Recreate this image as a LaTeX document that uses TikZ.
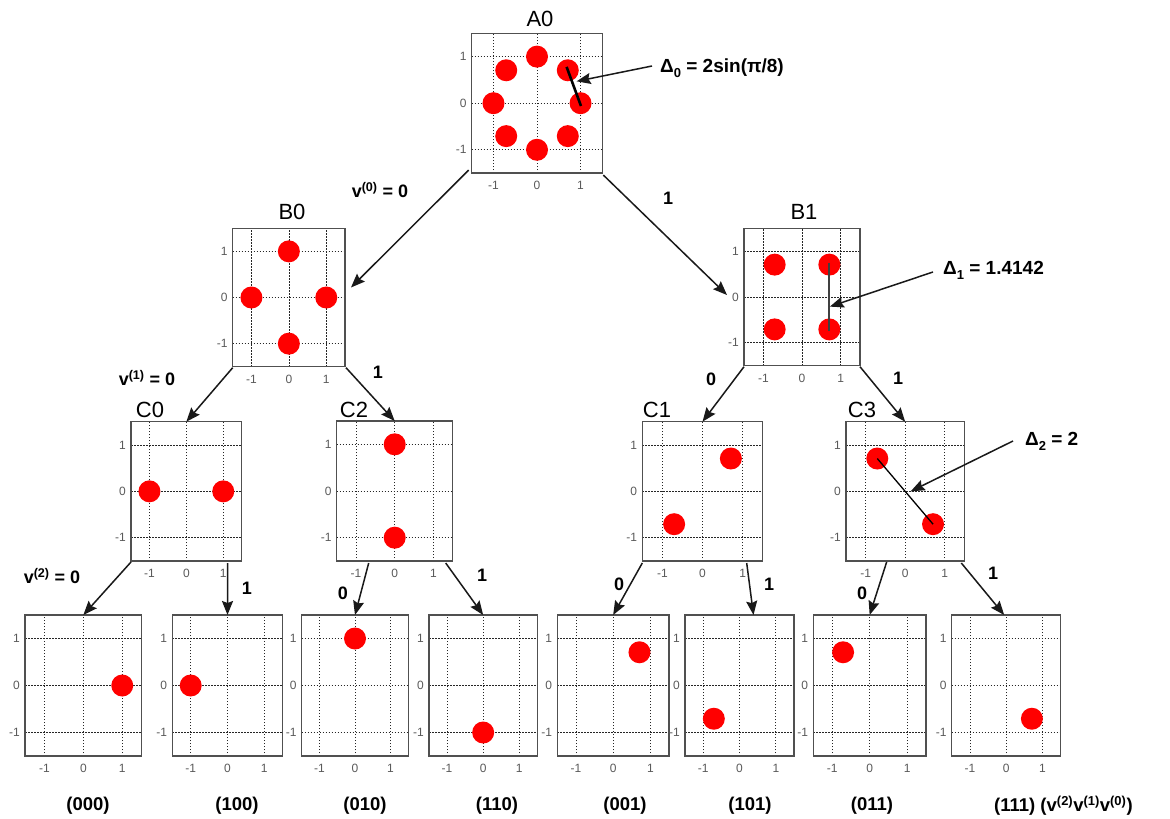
\documentclass[tikz,border=0pt]{standalone}
\usepackage{fontspec}
\setmainfont{Liberation Sans}
\usetikzlibrary{arrows.meta,calc}
\definecolor{boxgray}{HTML}{505050}
\definecolor{tickgray}{HTML}{5A5A5A}
\definecolor{dotred}{HTML}{FF0000}
\tikzset{
 panel/.style={draw=boxgray, line width=1.3pt, inner sep=0pt, outer sep=0pt, rectangle},
 gridline/.style={draw=black!85, line width=0.7pt, dash pattern=on 1.5pt off 1.5pt},
 tick/.style={text=tickgray, font=\fontsize{12}{12}\selectfont, inner sep=0pt},
 ptitle/.style={font=\fontsize{22}{22}\selectfont, inner sep=0pt},
 blabel/.style={font=\bfseries\fontsize{18}{18}\selectfont, inner sep=0pt},
 leaflabel/.style={font=\bfseries\fontsize{18.5}{18.5}\selectfont, inner sep=0pt},
 conn/.style={draw=black!90, line width=1.5pt, -{Stealth[length=14pt,width=11pt,inset=2pt]}},
 dlabel/.style={font=\bfseries\fontsize{19}{19}\selectfont, inner sep=0pt, anchor=west},
 dline/.style={line width=2.6pt, black},
}
\newcommand{\plotpanel}[7]{%
\begin{scope}[shift={(#2,#3)}, x={(#4pt/3,0pt)}, y={(0pt,#5pt/3)}]
\foreach \g in {-1,0,1}{%
 \draw[gridline] (\g,-1.5) -- (\g,1.5);
 \draw[gridline] (-1.5,\g) -- (1.5,\g);
 \node[tick, anchor=east] (#1-y\g) at ([xshift=-5pt]-1.5,\g) {\g};
 \node[tick, anchor=north] (#1-x\g) at ([yshift=-8pt]\g,-1.5) {\g};
}
\foreach \px/\py in {#6}{\fill[dotred] (\px,\py) circle[radius=11pt];}
#7
\node[panel, minimum width=#4pt, minimum height=#5pt] (#1) at (0,0) {};
\end{scope}}
\newcommand{\dsub}[1]{\raisebox{-5pt}{\fontsize{13}{13}\selectfont #1}}
\begin{document}
\begin{tikzpicture}[x=1pt,y=-1pt]
\fill[white] (0,0) rectangle (1170,819);
\useasboundingbox (0,0) rectangle (1170,819);

% panels
\plotpanel{A0}{537}{103.2}{130.6}{139.7}{1/0,0.7071/0.7071,0/1,-0.7071/0.7071,-1/0,-0.7071/-0.7071,0/-1,0.7071/-0.7071}{%
 \draw[dline] (0.68,0.78) -- (1.01,-0.06);
 \coordinate (A0tip) at (0.91,0.47);}
\plotpanel{B0}{288.85}{297.5}{112.3}{138.4}{0/1,1/0,0/-1,-1/0}{}
\plotpanel{B1}{802}{297}{116}{137.4}{0.7071/0.7071,-0.7071/0.7071,-0.7071/-0.7071,0.7071/-0.7071}{%
 \draw[line width=2.2pt, black!75] (0.7071,0.75) -- (0.7071,-0.75);
 \coordinate (B1tip) at (0.72,-0.21);}
\plotpanel{C0}{186.35}{491.35}{110.7}{139.3}{-1/0,1/0}{}
\plotpanel{C2}{394.7}{491}{116}{140}{0/1,0/-1}{}
\plotpanel{C1}{702.5}{491.35}{120.4}{139.3}{0.7071/0.7071,-0.7071/-0.7071}{}
\plotpanel{C3}{905.15}{491.35}{118.3}{139.3}{-0.7071/0.7071,0.7071/-0.7071}{%
 \draw[line width=1.3pt, black] (-0.7071,0.7071) -- (0.7071,-0.7071);
 \coordinate (C3tip) at (0.14,0);}
\plotpanel{L000}{83.35}{685.5}{116.7}{141}{1/0}{}
\plotpanel{L100}{227.5}{685.5}{110.4}{141}{-1/0}{}
\plotpanel{L010}{355}{685.5}{106.6}{141}{0/1}{}
\plotpanel{L110}{483.15}{685.5}{108.3}{141}{0/-1}{}
\plotpanel{L001}{613.15}{685.5}{111.7}{141}{0.7071/0.7071}{}
\plotpanel{L101}{739.5}{685.5}{109}{141}{-0.7071/-0.7071}{}
\plotpanel{L011}{869.65}{685.5}{112.7}{141}{-0.7071/0.7071}{}
\plotpanel{L111}{1006.2}{685.5}{109}{141}{0.7071/-0.7071}{}

% titles
\node[ptitle] (tA0) at (540,19) {A0};
\node[ptitle] (tB0) at (292,212) {B0};
\node[ptitle] (tB1) at (804,212) {B1};
\node[ptitle] (tC0) at (150,410) {C0};
\node[ptitle] (tC2) at (354,410) {C2};
\node[ptitle] (tC1) at (657,410) {C1};
\node[ptitle] (tC3) at (862,410) {C3};

% connectors
\draw[conn] ([xshift=-3pt,yshift=3pt]A0.south west) -- ([xshift=6pt,yshift=10pt]B0.east);
\draw[conn] ([xshift=1pt,yshift=-2pt]A0.south east) -- ([xshift=-17pt,yshift=2pt]B1.west);
\draw[conn] ([yshift=-1pt]B0.south west) -- (C0.north);
\draw[conn] ([xshift=1pt,yshift=-1pt]B0.south east) -- (C2.north);
\draw[conn] ([yshift=-1pt]B1.south west) -- (C1.north);
\draw[conn] ([yshift=-1pt]B1.south east) -- (C3.north);
\draw[conn] ([yshift=-1pt]C0.south west) -- (L000.north);
\draw[conn] ([xshift=41.2pt,yshift=-2pt]C0.south) -- (L100.north);
\draw[conn] ([xshift=-26pt,yshift=-2pt]C2.south) -- (L010.north);
\draw[conn] ([xshift=-7pt,yshift=-2pt]C2.south east) -- (L110.north);
\draw[conn] ([yshift=-2pt]C1.south west) -- (L001.north);
\draw[conn] ([xshift=-16pt,yshift=-2pt]C1.south east) -- ([xshift=14pt]L101.north);
\draw[conn] ([xshift=-18.5pt,yshift=-1pt]C3.south) -- (L011.north);
\draw[conn] ([xshift=-3pt,yshift=-2pt]C3.south east) -- ([xshift=-2pt]L111.north);

% branch labels
\node[blabel] (lv0) at (380,190) {v\textsuperscript{(0)} = 0};
\node[blabel] (lA1) at (668,198) {1};
\node[blabel] (lv1) at (147,378) {v\textsuperscript{(1)} = 0};
\node[blabel] (lB01) at (378,372) {1};
\node[blabel] (lB10) at (711,379) {0};
\node[blabel] (lB11) at (898,378) {1};
\node[blabel] (lv2) at (52,576) {v\textsuperscript{(2)} = 0};
\node[blabel] (lC01) at (247,588) {1};
\node[blabel] (lC20) at (343,593) {0};
\node[blabel] (lC21) at (482,575) {1};
\node[blabel] (lC10) at (619,584) {0};
\node[blabel] (lC11) at (769,584) {1};
\node[blabel] (lC30) at (862,593) {0};
\node[blabel] (lC31) at (993,573) {1};

% distance annotations
\node[dlabel] (d0) at (660,68) {Δ\dsub{0} = 2sin(π/8)};
\draw[conn] ([xshift=-8pt,yshift=2pt]d0.west) -- (A0tip);
\node[dlabel] (d1) at (943,270) {Δ\dsub{1} = 1.4142};
\draw[conn] ([xshift=-10pt,yshift=-2pt]d1.west) -- (B1tip);
\node[dlabel] (d2) at (1025,441) {Δ\dsub{2} = 2};
\draw[conn] ([xshift=-12pt]d2.west) -- (C3tip);

% leaf labels
\node[leaflabel] (b000) at (88,806) {(000)};
\node[leaflabel] (b100) at (237,806) {(100)};
\node[leaflabel] (b010) at (365,806) {(010)};
\node[leaflabel] (b110) at (497,806) {(110)};
\node[leaflabel] (b001) at (625,806) {(001)};
\node[leaflabel] (b101) at (750,806) {(101)};
\node[leaflabel] (b011) at (872,806) {(011)};
\node[leaflabel, anchor=west] (b111) at (994,806) {(111) (v\textsuperscript{(2)}v\textsuperscript{(1)}v\textsuperscript{(0)})};
\end{tikzpicture}
\end{document}
